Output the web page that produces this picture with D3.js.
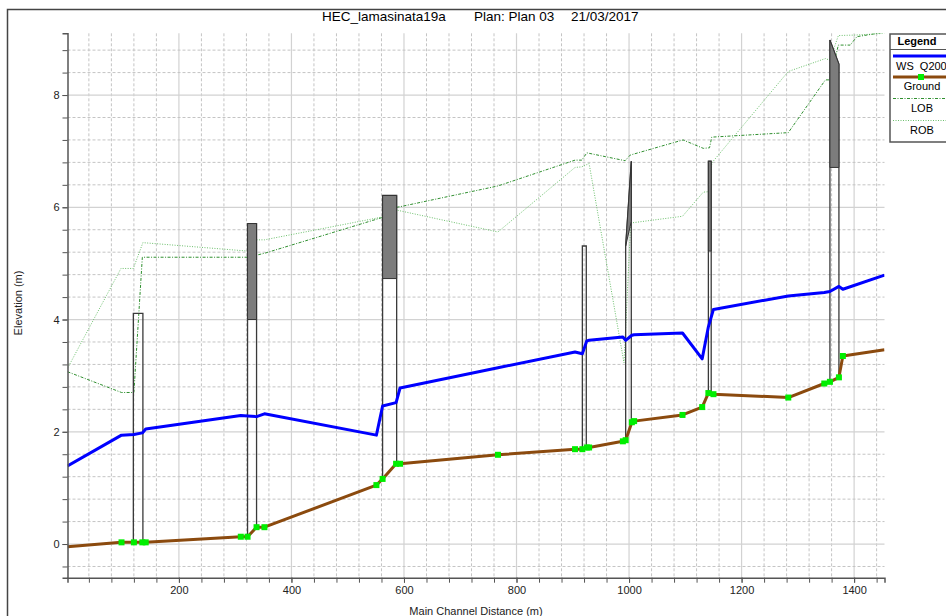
<!DOCTYPE html>
<html>
<head>
<meta charset="utf-8">
<script src="https://cdn.jsdelivr.net/npm/d3@7"></script>
<style>
  body { margin: 0; background: #fff; }
  svg { font-family: "Liberation Sans", Arial, sans-serif; }
</style>
</head>
<body>
<svg id="chart" width="946" height="616"></svg>
<script>
// Cross-section stations along the main channel (m) with ground and water surface
const stations   = [2, 98, 120, 135, 141, 310, 322, 338, 352, 551, 562, 586, 593, 767, 904, 917, 925, 929, 989, 994, 1005, 1009, 1095, 1130, 1141, 1150, 1283, 1347, 1357, 1373, 1380, 1454];
const groundElev = [-0.05, 0.03, 0.03, 0.03, 0.03, 0.13, 0.13, 0.30, 0.30, 1.05, 1.16, 1.43, 1.43, 1.59, 1.69, 1.69, 1.72, 1.72, 1.83, 1.85, 2.17, 2.19, 2.30, 2.44, 2.69, 2.67, 2.61, 2.86, 2.89, 2.97, 3.35, 3.46];
const wsQ200     = [1.39, 1.94, 1.95, 1.98, 2.05, 2.29, 2.28, 2.27, 2.32, 1.94, 2.46, 2.52, 2.78, 3.14, 3.42, 3.39, 3.62, 3.63, 3.69, 3.63, 3.72, 3.73, 3.76, 3.30, 3.87, 4.18, 4.42, 4.48, 4.50, 4.59, 4.54, 4.79];

// Left overbank
const lobDist = [2, 98, 120, 135, 322, 352, 562, 587, 593, 767, 904, 916, 925, 993, 1002, 1096, 1132, 1143, 1147, 1283, 1349, 1357, 1372, 1393, 1405, 1454];
const lobElev = [3.07, 2.70, 2.70, 5.11, 5.11, 5.18, 5.82, 6.00, 6.01, 6.38, 6.84, 6.84, 6.97, 6.83, 6.93, 7.20, 7.05, 7.06, 7.25, 7.33, 8.27, 8.27, 8.89, 8.89, 9.04, 9.12];

// Right overbank
const robDist = [2, 97, 119, 136, 322, 338, 352, 563, 587, 767, 904, 916, 929, 991, 1003, 1095, 1132, 1144, 1147, 1283, 1349, 1357, 1372, 1405, 1454];
const robElev = [3.13, 4.91, 4.91, 5.37, 5.22, 5.42, 5.42, 5.83, 5.95, 5.56, 6.71, 6.72, 6.78, 3.23, 5.72, 5.84, 6.27, 6.28, 6.79, 8.42, 8.65, 8.62, 9.06, 9.07, 9.10];

// Bridges / culverts: upstream and downstream faces, high and low chord
const bridgeUp      = [119, 322, 562, 917, 994, 1141, 1357];
const bridgeDown    = [136, 338, 587, 924, 1004, 1146, 1373];
const highChordUp   = [4.11, 5.71, 6.21, 5.31, 5.31, 6.82, 8.98];
const highChordDown = [4.11, 5.71, 6.21, 5.31, 6.82, 6.82, 8.55];
const lowChordUp    = [4.11, 4.00, 4.73, 5.31, 5.31, 5.22, 6.71];
const lowChordDown  = [4.11, 4.00, 4.73, 5.31, 5.75, 5.22, 6.71];

// Axis ticks
const xMajorTicks = [200, 400, 600, 800, 1000, 1200, 1400];
const xMinorTicks = d3.range(40, 1441, 40);
const yMajorTicks = [0, 2, 4, 6, 8];
const yMinorTicks = d3.range(-0.4, 8.81, 0.4).map(v => +v.toFixed(1));

const titleParts = [
  { text: "HEC_lamasinata19a", x: 322 },
  { text: "Plan: Plan 03", x: 474 },
  { text: "21/03/2017", x: 571 }
];

const legendItems = ["WS  Q200", "Ground", "LOB", "ROB"];

// ---------------------------------------------------------------
const svg = d3.select("#chart");
const plot = { left: 67.5, right: 884.5, top: 33.3, bottom: 577.7 };

const x = d3.scaleLinear().domain([2, 1454]).range([plot.left, plot.right]);
const y = d3.scaleLinear().domain([-0.6, 9.1]).range([plot.bottom, plot.top]);

// outer frame
svg.append("rect")
  .attr("x", 7.5).attr("y", 9.5)
  .attr("width", 960).attr("height", 640)
  .attr("fill", "none").attr("stroke", "#444").attr("stroke-width", 1.5);

// title
svg.selectAll("text.title").data(titleParts).join("text")
  .attr("class", "title")
  .attr("x", d => d.x).attr("y", 21)
  .attr("font-size", 13.5).attr("fill", "#000")
  .text(d => d.text);

// clip for plot content
svg.append("defs").append("clipPath").attr("id", "plotClip")
  .append("rect")
  .attr("x", plot.left).attr("y", plot.top)
  .attr("width", plot.right - plot.left).attr("height", plot.bottom - plot.top);

// grid
const grid = svg.append("g");
grid.selectAll("line.vmin").data(xMinorTicks.filter(v => !xMajorTicks.includes(v))).join("line")
  .attr("x1", d => x(d)).attr("x2", d => x(d))
  .attr("y1", plot.top).attr("y2", plot.bottom)
  .attr("stroke", "#c4c4c4").attr("stroke-width", 1).attr("stroke-dasharray", "3,2");
grid.selectAll("line.vmaj").data(xMajorTicks).join("line")
  .attr("x1", d => x(d)).attr("x2", d => x(d))
  .attr("y1", plot.top).attr("y2", plot.bottom)
  .attr("stroke", "#d2d2d2").attr("stroke-width", 1.2);
grid.selectAll("line.hmin").data(yMinorTicks.filter(v => !yMajorTicks.includes(v))).join("line")
  .attr("x1", plot.left).attr("x2", plot.right)
  .attr("y1", d => y(d)).attr("y2", d => y(d))
  .attr("stroke", "#c4c4c4").attr("stroke-width", 1).attr("stroke-dasharray", "3,2");
grid.selectAll("line.hmaj").data(yMajorTicks).join("line")
  .attr("x1", plot.left).attr("x2", plot.right)
  .attr("y1", d => y(d)).attr("y2", d => y(d))
  .attr("stroke", "#d2d2d2").attr("stroke-width", 1.2);

const content = svg.append("g").attr("clip-path", "url(#plotClip)");

const line = d3.line().x(d => x(d[0])).y(d => y(d[1]));
const zip = (a, b) => a.map((v, i) => [v, b[i]]);

// overbank lines
content.append("path").datum(zip(robDist, robElev))
  .attr("d", line).attr("fill", "none")
  .attr("stroke", "#6cbf6c").attr("stroke-width", 1).attr("stroke-dasharray", "1,1.5");
content.append("path").datum(zip(lobDist, lobElev))
  .attr("d", line).attr("fill", "none")
  .attr("stroke", "#2f8f2f").attr("stroke-width", 1).attr("stroke-dasharray", "3,1.5,1,1.5");

// ground elevation at any distance
const groundAt = d => {
  const i = d3.bisectRight(stations, d);
  if (i <= 0) return groundElev[0];
  if (i >= stations.length) return groundElev[stations.length - 1];
  const t = (d - stations[i - 1]) / (stations[i] - stations[i - 1]);
  return groundElev[i - 1] + t * (groundElev[i] - groundElev[i - 1]);
};

// bridges
const bridges = bridgeUp.map((u, i) => ({
  up: u, down: bridgeDown[i],
  hu: highChordUp[i], hd: highChordDown[i],
  lu: lowChordUp[i], ld: lowChordDown[i]
}));
const bg = content.append("g");
bridges.forEach(b => {
  const outline = [[b.up, groundAt(b.up)], [b.up, b.hu], [b.down, b.hd], [b.down, groundAt(b.down)]];
  bg.append("path").datum(outline)
    .attr("d", line).attr("fill", "none")
    .attr("stroke", "#3a3a3a").attr("stroke-width", 1.3);
  if (b.hu > b.lu || b.hd > b.ld) {
    const deck = [[b.up, b.hu], [b.down, b.hd], [b.down, b.ld], [b.up, b.lu]];
    bg.append("path").datum(deck)
      .attr("d", line(deck) + "Z")
      .attr("fill", "#7c7c7c").attr("stroke", "#333").attr("stroke-width", 1);
  }
});

// water surface
content.append("path").datum(zip(stations, wsQ200))
  .attr("d", line).attr("fill", "none")
  .attr("stroke", "#0000ff").attr("stroke-width", 3).attr("stroke-linejoin", "round");

// ground
content.append("path").datum(zip(stations, groundElev))
  .attr("d", line).attr("fill", "none")
  .attr("stroke", "#8b4a0e").attr("stroke-width", 3).attr("stroke-linejoin", "round");
content.selectAll("rect.gm").data(zip(stations, groundElev).slice(1, -1)).join("rect")
  .attr("x", d => x(d[0]) - 3).attr("y", d => y(d[1]) - 3)
  .attr("width", 6).attr("height", 6).attr("fill", "#00ee00");

// axes
const axisStyle = g => {
  g.select(".domain").attr("stroke", "#555").attr("stroke-width", 1.5);
  g.selectAll(".tick line").attr("stroke", "#555");
  g.selectAll(".tick text").attr("fill", "#222").attr("font-size", 11)
    .attr("font-family", "\"Liberation Sans\", Arial, sans-serif");
};
svg.append("g").attr("transform", `translate(0,${plot.bottom})`)
  .call(d3.axisBottom(x).tickValues(xMinorTicks).tickSize(5).tickFormat(""))
  .call(axisStyle);
svg.append("g").attr("transform", `translate(0,${plot.bottom})`)
  .call(d3.axisBottom(x).tickValues(xMajorTicks).tickSize(5).tickPadding(4).tickFormat(d3.format("d")))
  .call(axisStyle).call(g => g.select(".domain").remove());
svg.append("g").attr("transform", `translate(${plot.left},0)`)
  .call(d3.axisLeft(y).tickValues(yMinorTicks).tickSize(5).tickFormat(""))
  .call(axisStyle);
svg.append("g").attr("transform", `translate(${plot.left},0)`)
  .call(d3.axisLeft(y).tickValues(yMajorTicks).tickSize(5).tickPadding(3).tickFormat(d3.format("d")))
  .call(axisStyle).call(g => g.select(".domain").remove());

// axis titles
svg.append("text")
  .attr("transform", "translate(22,303) rotate(-90)")
  .attr("text-anchor", "middle").attr("font-size", 11).attr("fill", "#222")
  .text("Elevation (m)");
svg.append("text")
  .attr("x", 476).attr("y", 615)
  .attr("text-anchor", "middle").attr("font-size", 11).attr("fill", "#222")
  .text("Main Channel Distance (m)");

// legend
const lg = svg.append("g");
const lx = 890, lw = 76, tcx = 922;
lg.append("rect").attr("x", lx).attr("y", 34).attr("width", lw).attr("height", 108)
  .attr("fill", "#fff").attr("stroke", "#555").attr("stroke-width", 1.5);
lg.append("line").attr("x1", lx).attr("x2", lx + lw).attr("y1", 49.5).attr("y2", 49.5)
  .attr("stroke", "#555").attr("stroke-width", 1.2);
lg.append("text").attr("x", 917).attr("y", 45).attr("text-anchor", "middle")
  .attr("font-size", 11).attr("font-weight", "bold").text("Legend");

const rowY = [56, 77, 98.5, 120.5];
const textY = [69.5, 90, 112, 134];
lg.append("line").attr("x1", lx + 3).attr("x2", lx + lw).attr("y1", rowY[0]).attr("y2", rowY[0])
  .attr("stroke", "#0000ff").attr("stroke-width", 3);
lg.append("line").attr("x1", lx + 3).attr("x2", lx + lw).attr("y1", rowY[1]).attr("y2", rowY[1])
  .attr("stroke", "#8b4a0e").attr("stroke-width", 3);
lg.append("rect").attr("x", 921 - 3).attr("y", rowY[1] - 3).attr("width", 6).attr("height", 6)
  .attr("fill", "#00ee00");
lg.append("line").attr("x1", lx + 3).attr("x2", lx + lw).attr("y1", rowY[2]).attr("y2", rowY[2])
  .attr("stroke", "#2f8f2f").attr("stroke-width", 1).attr("stroke-dasharray", "3,1.5,1,1.5");
lg.append("line").attr("x1", lx + 3).attr("x2", lx + lw).attr("y1", rowY[3]).attr("y2", rowY[3])
  .attr("stroke", "#6cbf6c").attr("stroke-width", 1).attr("stroke-dasharray", "1,1.5");
legendItems.forEach((t, i) => {
  lg.append("text")
    .attr("x", i === 0 ? lx + 6 : tcx).attr("y", textY[i])
    .attr("text-anchor", i === 0 ? "start" : "middle")
    .attr("font-size", 11).attr("fill", "#000")
    .style("white-space", "pre")
    .text(t);
});
</script>
</body>
</html>
